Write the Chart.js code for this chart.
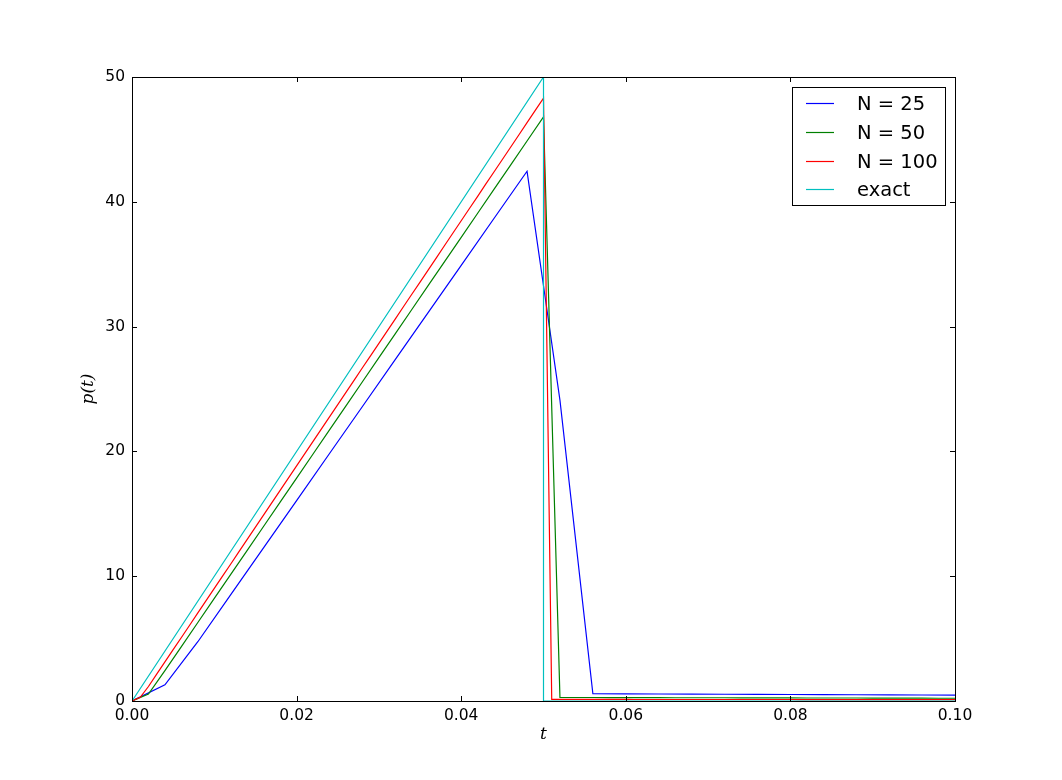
<!DOCTYPE html>
<html>
<head>
<meta charset="utf-8">
<script src="https://cdn.jsdelivr.net/npm/chart.js@4"></script>
<style>
  html, body { margin: 0; padding: 0; background: #fff; }
  #wrap { width: 1062px; height: 780px; }
</style>
</head>
<body>
<div id="wrap"><canvas id="graph" width="1062" height="780"></canvas></div>
<script>
// p(t) for three grids and the exact solution
const labels = ['N = 25', 'N = 50', 'N = 100', 'exact'];
const colors = ['#0000ff', '#008000', '#ff0000', '#00bfbf'];

const dt25 = 0.004;
const p25 = [0, 1.30, 4.75, 8.52, 12.29, 16.06, 19.83, 23.60, 27.37, 31.14, 34.91, 38.68, 42.45,
	24.1, 0.58, 0.57, 0.56, 0.55, 0.54, 0.53, 0.52, 0.51, 0.50, 0.49, 0.48, 0.47];

const dt50 = 0.002;
const p50 = [0, 0.55, 2.43, 4.36, 6.29, 8.22, 10.15, 12.07, 14.00, 15.93, 17.86, 19.79, 21.72,
	23.65, 25.58, 27.51, 29.44, 31.37, 33.30, 35.22, 37.15, 39.08, 41.01, 42.94, 44.87, 46.80,
	0.28, 0.28, 0.28, 0.27, 0.27, 0.27, 0.27, 0.26, 0.26, 0.26, 0.26, 0.25, 0.25,
	0.25, 0.25, 0.24, 0.24, 0.24, 0.24, 0.23, 0.23, 0.23, 0.23, 0.22, 0.22];

const dt100 = 0.001;
const p100 = [0, 0.30, 1.16, 2.15, 3.13, 4.11, 5.09, 6.07, 7.06, 8.04, 9.02, 10.00, 10.98,
	11.97, 12.95, 13.93, 14.91, 15.89, 16.88, 17.86, 18.84, 19.82, 20.80, 21.79, 22.77,
	23.75, 24.73, 25.71, 26.70, 27.68, 28.66, 29.64, 30.62, 31.61, 32.59, 33.57, 34.55,
	35.53, 36.52, 37.50, 38.48, 39.46, 40.44, 41.43, 42.41, 43.39, 44.37, 45.35, 46.34,
	47.32, 48.30,
	0.13, 0.13, 0.13, 0.13, 0.13, 0.13, 0.13, 0.13, 0.13, 0.13,
	0.12, 0.12, 0.12, 0.12, 0.12, 0.12, 0.12, 0.12, 0.12, 0.12,
	0.12, 0.12, 0.12, 0.12, 0.12, 0.12, 0.12, 0.12, 0.12, 0.12,
	0.11, 0.11, 0.11, 0.11, 0.11, 0.11, 0.11, 0.11, 0.11, 0.11,
	0.11, 0.11, 0.11, 0.11, 0.11, 0.11, 0.11, 0.11, 0.11, 0.11];

const tExact = [0, 0.05, 0.05, 0.1];
const pExact = [0, 50, 0, 0];

const xTicks = [0, 0.02, 0.04, 0.06, 0.08, 0.1];
const yTicks = [0, 10, 20, 30, 40, 50];

function onGrid(dt, vals) {
	return vals.map((v, i) => ({ x: +(i * dt).toFixed(4), y: v }));
}

const tickFont = { family: 'DejaVu Sans', size: 15.5 };
const mathFont = { family: 'DejaVu Serif', size: 17, style: 'italic' };

// inward ticks on all four sides, frame and legend box
const frame = {
	id: 'frame',
	afterDatasetsDraw(chart) {
		const ctx = chart.ctx;
		const a = chart.chartArea;
		const xs = chart.scales.x, ys = chart.scales.y;
		ctx.save();
		ctx.strokeStyle = '#000';
		ctx.lineWidth = 1;
		ctx.beginPath();
		xTicks.forEach(v => {
			const px = Math.round(xs.getPixelForValue(v)) + 0.5;
			ctx.moveTo(px, a.bottom); ctx.lineTo(px, a.bottom - 5);
			ctx.moveTo(px, a.top); ctx.lineTo(px, a.top + 5);
		});
		yTicks.forEach(v => {
			const py = Math.round(ys.getPixelForValue(v)) + 0.5;
			ctx.moveTo(a.left, py); ctx.lineTo(a.left + 5, py);
			ctx.moveTo(a.right, py); ctx.lineTo(a.right - 5, py);
		});
		ctx.stroke();
		ctx.strokeRect(Math.round(a.left) + 0.5, Math.round(a.top) + 0.5,
			Math.round(a.right - a.left), Math.round(a.bottom - a.top));

		const fs = 19.5, rowH = 28.7;
		const bx = a.right - 10 - 153, by = a.top + 10;
		ctx.fillStyle = '#fff';
		ctx.fillRect(bx, by, 153, 118);
		ctx.strokeStyle = '#000';
		ctx.strokeRect(Math.round(bx) + 0.5, Math.round(by) + 0.5, 153, 118);
		ctx.font = fs + 'px "DejaVu Sans"';
		ctx.textBaseline = 'middle';
		labels.forEach((lab, i) => {
			const y = Math.round(by + 16.3 + i * rowH) + 0.5;
			ctx.beginPath();
			ctx.strokeStyle = colors[i];
			ctx.lineWidth = 1.2;
			ctx.moveTo(bx + 14, y);
			ctx.lineTo(bx + 42, y);
			ctx.stroke();
			ctx.fillStyle = '#000';
			ctx.fillText(lab, bx + 65, y + 1);
		});
		ctx.restore();
	}
};

new Chart(document.getElementById('graph'), {
	type: 'line',
	data: {
		datasets: [
			{ label: labels[0], data: onGrid(dt25, p25), borderColor: colors[0], order: 4 },
			{ label: labels[1], data: onGrid(dt50, p50), borderColor: colors[1], order: 3 },
			{ label: labels[2], data: onGrid(dt100, p100), borderColor: colors[2], order: 2 },
			{ label: labels[3], data: tExact.map((t, i) => ({ x: t, y: pExact[i] })), borderColor: colors[3], order: 1 }
		]
	},
	options: {
		responsive: false,
		animation: false,
		devicePixelRatio: 1,
		datasets: { line: { borderWidth: 1.2, pointRadius: 0, tension: 0, fill: false } },
		layout: { padding: { left: 0, right: 107, top: 77, bottom: 0 } },
		plugins: { legend: { display: false }, tooltip: { enabled: false } },
		scales: {
			x: {
				type: 'linear', min: 0, max: 0.1,
				afterBuildTicks: s => { s.ticks = xTicks.map(v => ({ value: v })); },
				afterFit: s => { s.height = 79; },
				grid: { display: false, drawTicks: false },
				border: { display: false },
				ticks: { font: tickFont, color: '#000', padding: 6, maxRotation: 0,
					callback: v => v.toFixed(2) },
				title: { display: true, text: 't', font: mathFont, color: '#000', padding: { top: 35, bottom: 35 } }
			},
			y: {
				type: 'linear', min: 0, max: 50,
				afterBuildTicks: s => { s.ticks = yTicks.map(v => ({ value: v })); },
				afterFit: s => { s.width = 132; },
				grid: { display: false, drawTicks: false },
				border: { display: false },
				ticks: { font: tickFont, color: '#000', padding: 7, callback: v => String(v) },
				title: { display: true, text: 'p(t)', font: mathFont, color: '#000', padding: { top: 78, bottom: 78 } }
			}
		}
	},
	plugins: [frame]
});
</script>
</body>
</html>
